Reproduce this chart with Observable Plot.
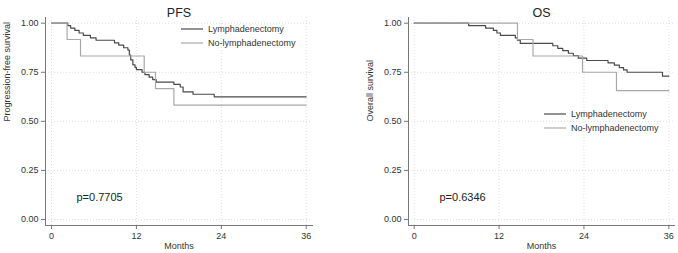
<!DOCTYPE html>
<html><head><meta charset="utf-8">
<script src="https://cdn.jsdelivr.net/npm/d3@7"></script>
<script src="https://cdn.jsdelivr.net/npm/@observablehq/plot@0.6"></script>
<style>
body{margin:0;background:#fff;}
#wrap{display:flex;width:678px;height:253px;}
</style></head><body><div id="wrap"></div>
<script>
// PFS data (Kaplan-Meier step points)
const pfsLymphT = [0, 2.3, 2.7, 3.3, 3.9, 4.5, 5.5, 6.3, 8.9, 9.5, 10.2, 10.8, 11.0, 11.2, 11.5, 11.8, 12.0, 12.8, 13.2, 13.8, 14.3, 14.8, 17.3, 18.2, 18.6, 20.0, 23.0, 36];
const pfsLymphS = [1.0, 0.988, 0.975, 0.963, 0.950, 0.938, 0.925, 0.913, 0.900, 0.888, 0.875, 0.863, 0.838, 0.813, 0.788, 0.775, 0.763, 0.750, 0.738, 0.725, 0.713, 0.700, 0.688, 0.675, 0.650, 0.638, 0.625, 0.625];
const pfsNoT = [0, 2.2, 4.1, 13.1, 14.7, 17.3, 36];
const pfsNoS = [1.0, 0.917, 0.833, 0.750, 0.667, 0.583, 0.583];
// OS data
const osLymphT = [0, 7.7, 10.1, 11.2, 11.7, 12.2, 14.3, 14.6, 15.0, 19.6, 20.3, 21.0, 21.8, 22.5, 23.2, 24.4, 27.4, 28.3, 29.0, 29.6, 30.1, 35.1, 36];
const osLymphS = [1.0, 0.988, 0.975, 0.963, 0.950, 0.938, 0.925, 0.913, 0.897, 0.885, 0.872, 0.860, 0.847, 0.835, 0.822, 0.810, 0.798, 0.786, 0.774, 0.762, 0.750, 0.730, 0.730];
const osNoT = [0, 14.6, 16.8, 23.8, 28.6, 36];
const osNoS = [1.0, 0.917, 0.833, 0.750, 0.656, 0.656];

const groups = ["Lymphadenectomy", "No-lymphadenectomy"];
const colors = ["#4a4a4a", "#a8a8a8"];
const xTicks = [0, 12, 24, 36];
const yTicks = [0, 0.25, 0.5, 0.75, 1];
const titles = ["PFS", "OS"];
const yLabels = ["Progression-free survival", "Overall survival"];
const pValues = ["p=0.7705", "p=0.6346"];
const xLabel = "Months";

function rows(T, S, g) { return T.map((t, i) => ({t, s: S[i], g})); }

function legendMark(x0, y0) {
  return (index, scales, values, dims) => {
    const svg = d3.create("svg:g").attr("text-anchor", "start");
    groups.forEach((g, i) => {
      const y = y0 + i * 14;
      svg.append("line").attr("x1", x0).attr("x2", x0 + 22).attr("y1", y).attr("y2", y)
        .attr("stroke", colors[i]).attr("stroke-width", 1.2);
      svg.append("text").attr("x", x0 + 27).attr("y", y).attr("dy", "0.35em")
        .attr("text-anchor", "start")
        .attr("fill", "#333").attr("font-size", 9).text(g);
    });
    return svg.node();
  };
}

function panel(k, data, cfg) {
  return Plot.plot({
    width: cfg.width, height: 253,
    marginLeft: cfg.ml, marginRight: cfg.mr, marginTop: 17, marginBottom: 28,
    style: {fontFamily: "'Liberation Sans', Arial, sans-serif", fontSize: "9px", color: "#333", background: "#fff"},
    x: {domain: cfg.xd},
    y: {domain: [-0.0306, 1.029]},
    color: {domain: groups, range: colors},
    marks: [
      Plot.gridX(xTicks, {stroke: "#c8c8c8", strokeOpacity: 0.6, strokeDasharray: "1,2"}),
      Plot.gridY(yTicks, {stroke: "#c8c8c8", strokeOpacity: 0.6, strokeDasharray: "1,2"}),
      Plot.frame({anchor: "left", stroke: "#777"}),
      Plot.frame({anchor: "bottom", stroke: "#777"}),
      Plot.axisX(xTicks, {tickSize: 4, tickPadding: 3, label: null, stroke: "#777", fill: "#333"}),
      Plot.axisY(yTicks, {tickSize: 4, tickPadding: 3, tickFormat: d3.format(".2f"), label: null, stroke: "#777", fill: "#333"}),
      Plot.line(data, {x: "t", y: "s", z: "g", stroke: "g", curve: "step-after", strokeWidth: 1.2}),
      Plot.text([titles[k]], {frameAnchor: "top", dy: -9, fontSize: 12.5, fill: "#222"}),
      Plot.text([xLabel], {frameAnchor: "bottom", dy: 23, fontSize: 9, fill: "#333"}),
      Plot.text([yLabels[k]], {frameAnchor: "left", dx: cfg.ylx, rotate: -90, fontSize: 9, fill: "#333"}),
      Plot.text([pValues[k]], {frameAnchor: "bottom-left", dx: 31, dy: -25, textAnchor: "start", fontSize: 11, fill: "#222"}),
      legendMark(cfg.lx, cfg.ly)
    ]
  });
}

const pfsData = rows(pfsLymphT, pfsLymphS, groups[0]).concat(rows(pfsNoT, pfsNoS, groups[1]));
const osData = rows(osLymphT, osLymphS, groups[0]).concat(rows(osNoT, osNoS, groups[1]));

const wrap = document.getElementById("wrap");
wrap.append(panel(0, pfsData, {width: 340, ml: 45, mr: 28, xd: [-0.85, 36.89], ylx: -38, lx: 181, ly: 29}));
wrap.append(panel(1, osData, {width: 338, ml: 68, mr: 4, xd: [-0.8, 36.8], ylx: -38, lx: 204, ly: 114}));
</script></body></html>
